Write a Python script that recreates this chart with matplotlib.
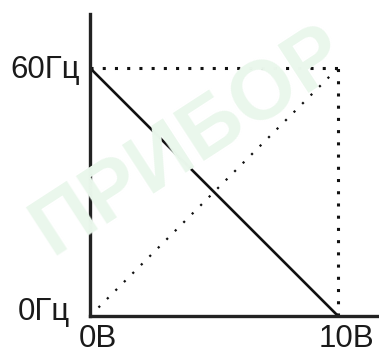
import matplotlib.pyplot as plt

plt.rcParams['font.family'] = ['Liberation Sans', 'DejaVu Sans']

# данные
volts = [0, 10]
freq_direct = [0, 60]
freq_inverse = [60, 0]
x_labels = ["0В", "10В"]
y_labels = ["0Гц", "60Гц"]

fig = plt.figure(figsize=(3.79, 3.53), dpi=100)

# водяной знак
fig.text(0.5, 0.6, "ПРИБОР", color="#eaf7ec", fontsize=60, fontweight="bold",
         rotation=33, ha="center", va="center", zorder=0)

ax = fig.add_axes([90 / 379, 37 / 353, 289 / 379, 302 / 353])
ax.patch.set_alpha(0)
ax.set_xlim(0, 11.65)
ax.set_ylim(0, 73.06)

ax.plot(volts, freq_inverse, color="#111111", lw=1.9, solid_capstyle="butt")
ax.plot(volts, freq_direct, color="#111111", lw=1.6, ls=(0, (1, 4.4)))
ax.plot(volts, [freq_direct[1]] * 2, color="#111111", lw=2.2, ls=(0, (1, 3.0)))
ax.plot([volts[1]] * 2, freq_direct, color="#111111", lw=2.2, ls=(0, (1, 3.0)))

for s in ["top", "right"]:
    ax.spines[s].set_visible(False)
for s in ["left", "bottom"]:
    ax.spines[s].set_linewidth(2.4)
    ax.spines[s].set_color("#222222")
ax.set_xticks([])
ax.set_yticks([])

# подписи
fs = 22.5
ax.text(-0.42, 57.6, y_labels[1], fontsize=fs, ha="right", va="baseline", color="#1a1a1a")
ax.text(-0.82, -1.0, y_labels[0], fontsize=fs, ha="right", va="baseline", color="#1a1a1a")
ax.text(-0.45, -7.6, x_labels[0], fontsize=fs, ha="left", va="baseline", color="#1a1a1a")
ax.text(9.2, -7.6, x_labels[1], fontsize=fs, ha="left", va="baseline", color="#1a1a1a")

fig.savefig("out.png", dpi=100)
